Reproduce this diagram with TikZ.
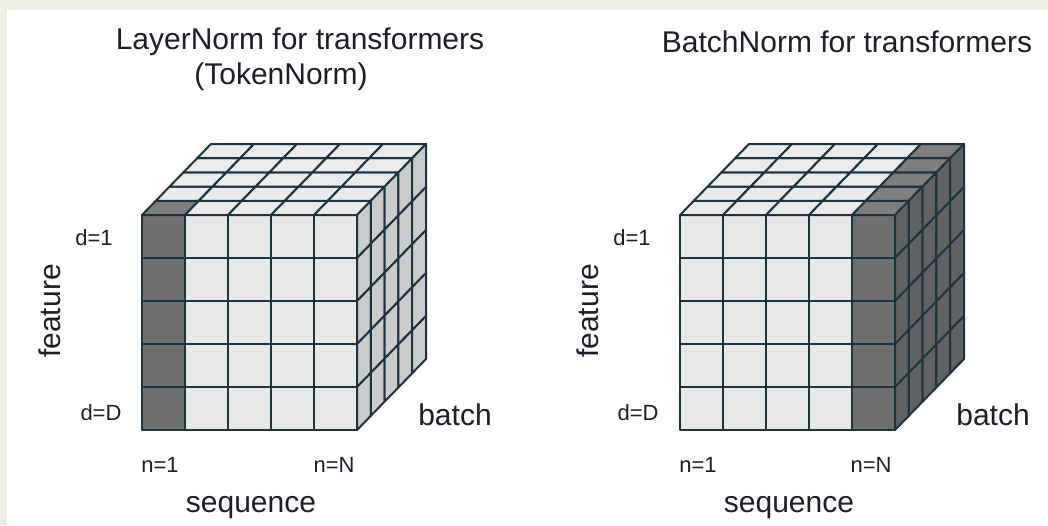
\documentclass[tikz,border=0pt]{standalone}
\usepackage{fontspec}
\setmainfont{Liberation Sans}
\definecolor{bgbeige}{HTML}{ECECE2}
\definecolor{gridline}{HTML}{1D3440}
\definecolor{celllight}{HTML}{E8E8E8}
\definecolor{celltop}{HTML}{EBEBEB}
\definecolor{cellside}{HTML}{CBCBCB}
\definecolor{celldark}{HTML}{6F6F6F}
\definecolor{celldarktop}{HTML}{7E7E7E}
\definecolor{celldarkside}{HTML}{626262}
\definecolor{labelink}{HTML}{1E1E28}
\tikzset{
  gridcell/.style={draw=gridline, line width=2pt, line join=round},
  bigtext/.style={text=labelink, font=\fontsize{30}{34}\selectfont, inner sep=0pt},
  smalltext/.style={text=labelink, font=\fontsize{22}{26}\selectfont, inner sep=0pt},
}
\begin{document}
\begin{tikzpicture}[x=1pt,y=-1pt]
\useasboundingbox (0,0) rectangle (1048,525);
\fill[bgbeige] (0,0) rectangle (1048,525);
\fill[white] (7,10) rectangle (1048,525);
\def\s{43}
\def\dx{13.8}
\def\dz{14.2}
% ---------- left cube (LayerNorm) ----------
\def\X{142}
\def\Y{215}
% front face
\foreach \i in {0,...,4}{
  \foreach \j in {0,...,4}{
    \ifnum\i=0 \def\fc{celldark}\else\def\fc{celllight}\fi
    \filldraw[gridcell, fill=\fc] (\X+\i*\s,\Y+\j*\s) rectangle ++(\s,\s);
  }
}
% top face
\foreach \i in {0,...,4}{
  \foreach \k in {0,...,4}{
    \def\fc{celltop}
    \ifnum\i=0 \ifnum\k=0 \def\fc{celldarktop}\fi\fi
    \filldraw[gridcell, fill=\fc] (\X+\i*\s+\k*\dx,\Y-\k*\dz) -- ++(\s,0) -- ++(\dx,-\dz) -- ++(-\s,0) -- cycle;
  }
}
% right face
\foreach \k in {0,...,4}{
  \foreach \j in {0,...,4}{
    \filldraw[gridcell, fill=cellside] (\X+5*\s+\k*\dx,\Y+\j*\s-\k*\dz) -- ++(\dx,-\dz) -- ++(0,\s) -- ++(-\dx,\dz) -- cycle;
  }
}
% ---------- right cube (BatchNorm) ----------
\def\X{680}
\foreach \i in {0,...,4}{
  \foreach \j in {0,...,4}{
    \ifnum\i=4 \def\fc{celldark}\else\def\fc{celllight}\fi
    \filldraw[gridcell, fill=\fc] (\X+\i*\s,\Y+\j*\s) rectangle ++(\s,\s);
  }
}
\foreach \i in {0,...,4}{
  \foreach \k in {0,...,4}{
    \ifnum\i=4 \def\fc{celldarktop}\else\def\fc{celltop}\fi
    \filldraw[gridcell, fill=\fc] (\X+\i*\s+\k*\dx,\Y-\k*\dz) -- ++(\s,0) -- ++(\dx,-\dz) -- ++(-\s,0) -- cycle;
  }
}
\foreach \k in {0,...,4}{
  \foreach \j in {0,...,4}{
    \filldraw[gridcell, fill=celldarkside] (\X+5*\s+\k*\dx,\Y+\j*\s-\k*\dz) -- ++(\dx,-\dz) -- ++(0,\s) -- ++(-\dx,\dz) -- cycle;
  }
}
% ---------- texts ----------
\node[bigtext] (ltitle) at (300,42) {LayerNorm for transformers};
\node[bigtext] (ltitleb) at (281,77) {(TokenNorm)};
\node[bigtext] (rtitle) at (847,42) {BatchNorm for transformers};
\node[smalltext] (ld1) at (94,238) {d=1};
\node[smalltext] (ldD) at (101,413) {d=D};
\node[bigtext, rotate=90] (lfeat) at (50,311) {feature};
\node[smalltext] (ln1) at (160,465) {n=1};
\node[smalltext] (lnN) at (334,465) {n=N};
\node[bigtext] (lseq) at (251,508) {sequence};
\node[bigtext] (lbatch) at (455,415) {batch};
\node[smalltext] (rd1) at (632,238) {d=1};
\node[smalltext] (rdD) at (638,413) {d=D};
\node[bigtext, rotate=90] (rfeat) at (588,311) {feature};
\node[smalltext] (rn1) at (698,465) {n=1};
\node[smalltext] (rnN) at (871,465) {n=N};
\node[bigtext] (rseq) at (789,508) {sequence};
\node[bigtext] (rbatch) at (993,415) {batch};
\end{tikzpicture}
\end{document}
